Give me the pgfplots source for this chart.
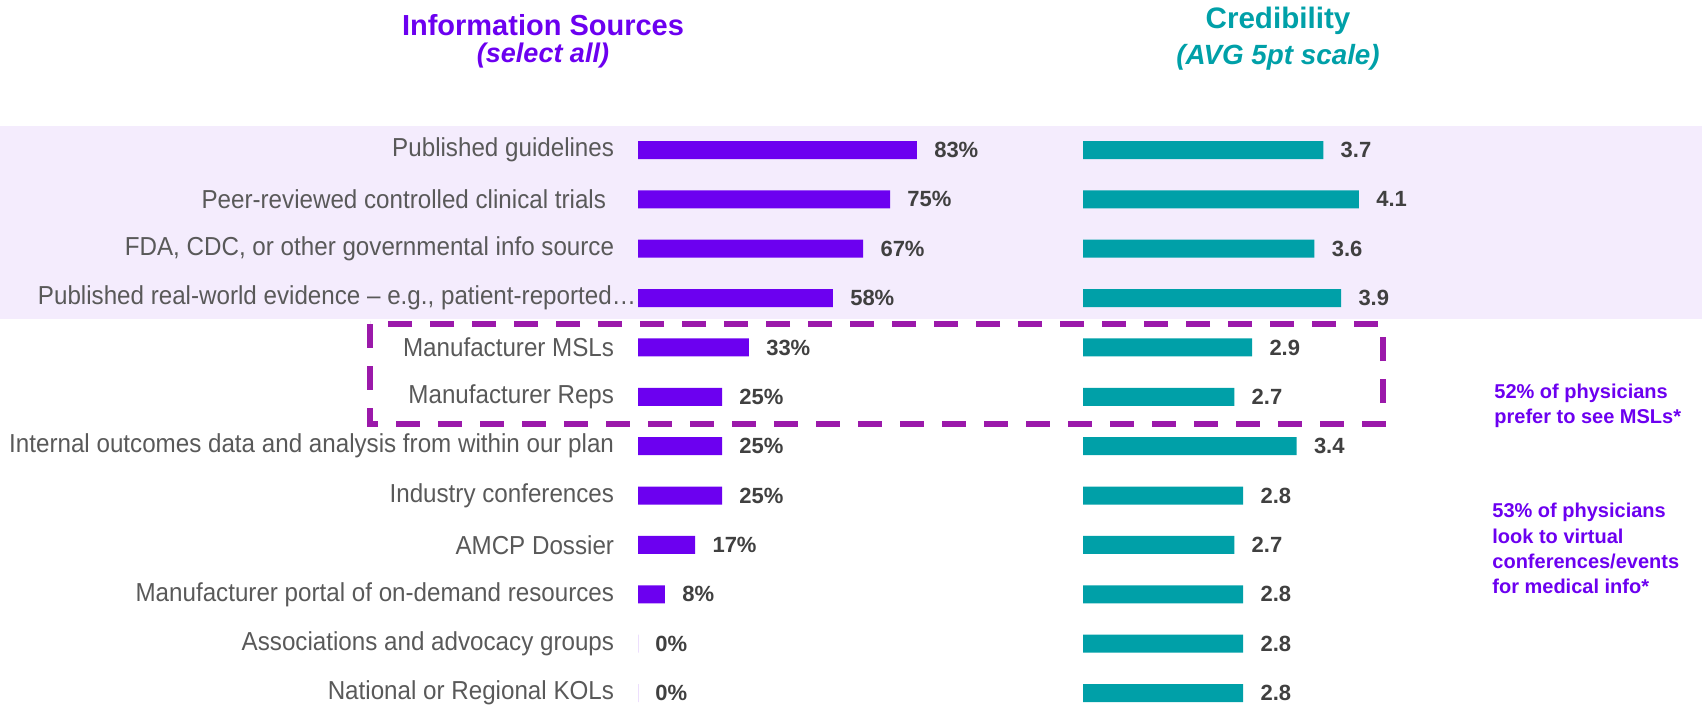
\documentclass[border=0pt]{standalone}
\usepackage{pgfplots}
\pgfplotsset{compat=1.18}
\usepackage{pgfplotstable}
\usepackage{fontspec}
\setmainfont{Liberation Sans}
\newfontfamily\narrowfont{Liberation Sans}[FakeStretch=0.93]

\definecolor{purpbar}{RGB}{108,0,240}
\definecolor{tealbar}{RGB}{0,160,168}
\definecolor{bandc}{RGB}{244,236,253}
\definecolor{boxc}{RGB}{155,25,170}
\definecolor{labelgray}{RGB}{89,89,89}
\definecolor{valgray}{RGB}{64,64,64}

% i = row (top to bottom), src = % selecting, cred = avg credibility (1-5)
\pgfplotstableread{
i src cred
0 83 3.7
1 75 4.1
2 67 3.6
3 58 3.9
4 33 2.9
5 25 2.7
6 25 3.4
7 25 2.8
8 17 2.7
9 8 2.8
10 0 2.8
11 0 2.8
}\datatab

\begin{document}
\begin{tikzpicture}
\path[use as bounding box] (0,0) rectangle (851pt,-354.5pt);
\fill[bandc] (0,-63pt) rectangle (851pt,-159.5pt);

% titles
\node[anchor=base, text=purpbar, font=\bfseries\fontsize{14.5}{17}\selectfont] at (271.5pt,-17.5pt) {Information Sources};
\node[anchor=base, text=purpbar, font=\bfseries\itshape\fontsize{13.5}{16}\selectfont] at (271.5pt,-31pt) {(select all)};
\node[anchor=base, text=tealbar, font=\bfseries\fontsize{14.8}{17}\selectfont] at (639pt,-14pt) {Credibility};
\node[anchor=base, text=tealbar, font=\bfseries\itshape\fontsize{13.9}{16}\selectfont] at (639pt,-32pt) {(AVG 5pt scale)};

\begin{axis}[
  at={(319pt,-62.65pt)}, anchor=north west,
  scale only axis, width=168pt, height=296.2pt,
  xmin=0, xmax=100, ymin=-0.5, ymax=11.5, y dir=reverse,
  xbar, bar width=9pt,
  axis line style={draw=none}, tick style={draw=none},
  xtick=\empty, ytick={0,...,11},
  yticklabels={Published guidelines,
    Peer-reviewed controlled clinical trials\kern4pt,
    {FDA, CDC, or other governmental info source},
    {Published real-world evidence – e.g., patient-reported…\kern-11pt},
    Manufacturer MSLs, Manufacturer Reps,
    Internal outcomes data and analysis from within our plan,
    Industry conferences, AMCP Dossier,
    Manufacturer portal of on-demand resources,
    Associations and advocacy groups,
    National or Regional KOLs},
  yticklabel style={font=\narrowfont\fontsize{13}{15}\selectfont, text=labelgray, inner sep=0pt, xshift=-7.5pt},
  point meta=x,
  nodes near coords={\pgfmathprintnumber[assume math mode=true]{\pgfplotspointmeta}\%},
  nodes near coords style={anchor=west, inner sep=0pt, xshift=8.5pt, font=\bfseries\fontsize{11}{13}\selectfont, text=valgray},
  clip=false,
]
\addplot[fill=purpbar, draw=none] table[x=src, y=i] {\datatab};
\end{axis}

\begin{axis}[
  at={(541.5pt,-62.65pt)}, anchor=north west,
  scale only axis, width=178pt, height=296.2pt,
  xmin=0, xmax=4, ymin=-0.5, ymax=11.5, y dir=reverse,
  xbar, bar width=9pt,
  axis line style={draw=none}, tick style={draw=none},
  xtick=\empty, ytick=\empty,
  point meta=explicit,
  nodes near coords={\pgfmathprintnumber[fixed,fixed zerofill,precision=1,assume math mode=true]{\pgfplotspointmeta}},
  nodes near coords style={anchor=west, inner sep=0pt, xshift=8.5pt, font=\bfseries\fontsize{11}{13}\selectfont, text=valgray},
  clip=false,
]
% scale runs from 1, so bars are drawn from 1
\addplot[fill=tealbar, draw=none] table[x expr=\thisrow{cred}-1, y=i, meta=cred] {\datatab};
\end{axis}

% highlight box
\draw[boxc, line width=3pt, dash pattern=on 12pt off 9pt] (185pt,-162pt) rectangle (691.5pt,-212pt);

% notes
\begin{scope}[every node/.style={anchor=base west, inner sep=0pt, text=purpbar, font=\bfseries\fontsize{10}{12}\selectfont}]
\node at (747pt,-199pt) {52\% of physicians};
\node at (747pt,-211.5pt) {prefer to see MSLs*};
\node at (746pt,-258.5pt) {53\% of physicians};
\node at (746pt,-271.5pt) {look to virtual};
\node at (746pt,-284pt) {conferences/events};
\node at (746pt,-296.5pt) {for medical info*};
\end{scope}
\end{tikzpicture}
\end{document}
